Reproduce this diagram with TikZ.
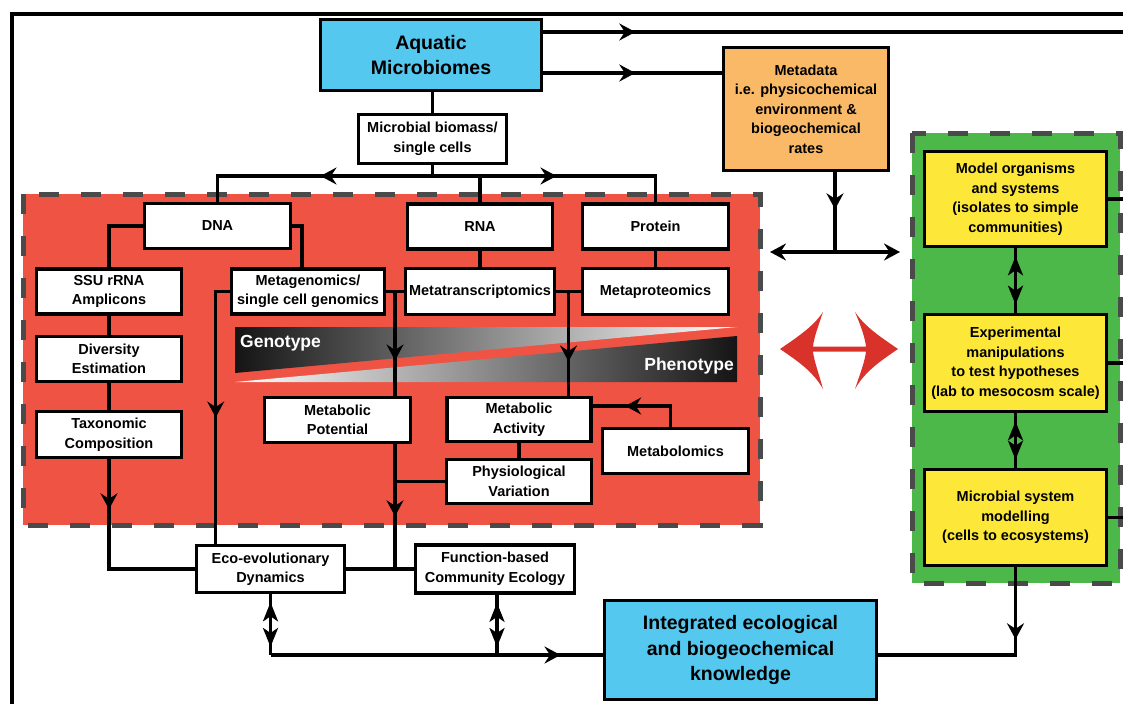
\documentclass[tikz,border=0pt]{standalone}
\usepackage{fontspec}
\setmainfont{Liberation Sans}
\usetikzlibrary{arrows.meta,decorations.markings,calc}
\definecolor{redbg}{HTML}{EF5344}
\definecolor{greenbg}{HTML}{4DB84A}
\definecolor{yellowbx}{HTML}{FDE83A}
\definecolor{cyanbx}{HTML}{55C8EF}
\definecolor{orangebx}{HTML}{F9B966}
\definecolor{dashgray}{HTML}{4A4A4A}
\definecolor{arrowred}{HTML}{D8322B}
\tikzset{
  barb/.tip={Stealth[length=16pt,width=17pt,inset=5.5pt]},
  barbbig/.tip={Stealth[length=19pt,width=15pt,inset=5pt]},
  box/.style={draw=black, line width=3.6pt, fill=white, align=center, inner sep=0pt,
     font=\bfseries\fontsize{14.5}{19.5}\selectfont},
  bigbox/.style={box, font=\bfseries\fontsize{19.5}{25.5}\selectfont},
  conn/.style={draw=black, line width=3.2pt},
  fwd/.style={postaction={decorate,decoration={markings,mark=at position #1 with {\arrow{barb}}}}},
  dbl/.style={postaction={decorate,decoration={markings,
      mark=at position 8pt with {\arrowreversed{barbbig}},
      mark=at position -8pt with {\arrow{barbbig}}}}},
  dashedbg/.style={draw=dashgray, line width=5pt, dash pattern=on 20pt off 22pt},
  bandtxt/.style={text=white, font=\bfseries\fontsize{17.5}{20}\selectfont, inner sep=0pt},
}
\begin{document}
\begin{tikzpicture}[x=1pt,y=-1pt]
\useasboundingbox (0,0) rectangle (1123,704);
% frame
\draw[line width=4pt] (12,704) -- (12,14) -- (1123,14);
% backgrounds
\filldraw[fill=redbg, dashedbg] (23,194) rectangle (760,525);
\filldraw[fill=greenbg, dashedbg] (912,133) rectangle (1120,583);
% genotype / phenotype bands
\shade[left color=black!92, right color=white] (235,327) -- (737,327) -- (235,373) -- cycle;
\shade[left color=white, right color=black!92] (235,382) -- (737,382) -- (737,336) -- cycle;
\node[bandtxt, anchor=west] (geno) at (240,343) {Genotype};
\node[bandtxt, anchor=east] (pheno) at (734,366) {Phenotype};
% nodes
\node[bigbox, fill=cyanbx, minimum width=221pt, minimum height=71pt] (aqu) at (431,55) {Aquatic\\Microbiomes};
\node[box, minimum width=148pt, minimum height=49pt] (bio) at (432.5,139) {Microbial biomass/\\single cells};
\node[box, fill=orangebx, minimum width=165pt, minimum height=123pt] (meta) at (806,109) {Metadata\\i.e. physicochemical\\environment \&\\biogeochemical\\rates};
\node[box, minimum width=146pt, minimum height=45pt] (dna) at (217.5,226) {DNA};
\node[box, minimum width=145pt, minimum height=45pt] (rna) at (480,226.5) {RNA};
\node[box, minimum width=146pt, minimum height=45pt] (prot) at (655.5,226.5) {Protein};
\node[box, minimum width=145pt, minimum height=45pt] (ssu) at (109,291.5) {SSU rRNA\\Amplicons};
\node[box, minimum width=145pt, minimum height=45pt] (div) at (109,359) {Diversity\\Estimation};
\node[box, minimum width=145pt, minimum height=46pt] (tax) at (109,434.5) {Taxonomic\\Composition};
\node[box, minimum width=153pt, minimum height=45pt] (mgen) at (308,291.5) {Metagenomics/\\single cell genomics};
\node[box, minimum width=149pt, minimum height=46pt] (mtr) at (480,291.5) {Metatranscriptomics};
\node[box, minimum width=146pt, minimum height=46pt] (mprot) at (655.5,291.5) {Metaproteomics};
\node[box, minimum width=146pt, minimum height=45pt] (mpot) at (337.5,420) {Metabolic\\Potential};
\node[box, minimum width=144pt, minimum height=44pt] (mact) at (519,419.5) {Metabolic\\Activity};
\node[box, minimum width=145pt, minimum height=44pt] (phys) at (519,481.5) {Physiological\\Variation};
\node[box, minimum width=146pt, minimum height=45pt] (mbol) at (675.5,451) {Metabolomics};
\node[box, minimum width=148pt, minimum height=47pt] (eco) at (270.5,569) {Eco-evolutionary\\Dynamics};
\node[box, minimum width=159pt, minimum height=48pt] (func) at (495,569) {Function-based\\Community Ecology};
\node[bigbox, fill=cyanbx, minimum width=272pt, minimum height=99pt] (integ) at (740.5,650) {Integrated ecological\\and biogeochemical\\knowledge};
\node[box, fill=yellowbx, minimum width=182pt, minimum height=95pt] (y1) at (1015.5,199) {Model organisms\\and systems\\(isolates to simple\\communities)};
\node[box, fill=yellowbx, minimum width=182pt, minimum height=97pt] (y2) at (1015.5,363) {Experimental\\manipulations\\to test hypotheses\\(lab to mesocosm scale)};
\node[box, fill=yellowbx, minimum width=182pt, minimum height=96pt] (y3) at (1015.5,517.5) {Microbial system\\modelling\\(cells to ecosystems)};
% coordinates
\coordinate (br) at (432.5,176);
\coordinate (e1) at (1123,32);
\coordinate (mj) at (835,252);
\coordinate (mL) at (770,252);
\coordinate (mR) at (900,252);
\coordinate (bl) at (0,655);
\coordinate (j1) at ($(mgen.east)!0.5!(mtr.west)$);
\coordinate (j2) at ($(mtr.east)!0.5!(mprot.west)$);
% connectors
\draw[conn] (aqu.south -| bio.north) -- (bio.north);
\draw[conn] (bio.south) -- (br);
\draw[conn, fwd=112pt] (br) -| (dna.north);
\draw[conn, fwd=124pt] (br) -| (prot.north);
\draw[conn] (br -| rna.north) -- (rna.north);
\draw[conn, fwd=92pt] (aqu.east |- e1) -- (e1);
\draw[conn, fwd=92pt] (aqu.east |- 0,73) -- (meta.west |- 0,73);
\draw[conn, fwd=37pt] (meta.south -| mj) -- (mj);
\draw[conn, barb-barb] (mL) -- (mR);
\draw[conn] (y1.east) -- (y1.east -| e1);
\draw[conn] (y2.east) -- (y2.east -| e1);
\draw[conn] (y3.east) -- (y3.east -| e1);
\draw[conn, dbl] (y1.south) -- (y2.north);
\draw[conn, dbl] (y2.south) -- (y3.north);
\draw[conn, fwd=72pt] (y3.south) -- (y3.south |- bl) -- (integ.east |- bl);
\draw[conn, dbl] (eco.south) -- (eco.south |- bl);
\draw[conn, dbl] ([xshift=2pt]func.south) -- ([xshift=2pt]func.south |- bl);
\draw[conn, fwd=290pt] (eco.south |- bl) -- (integ.west |- bl);
\draw[conn, fwd=50pt] (tax.south) |- (eco.west);
\draw[conn, fwd=140pt] (mgen.west) -| ([xshift=21pt]eco.north west);
\draw[conn] (mgen.east) -- (mtr.west);
\draw[conn] (mtr.east) -- (mprot.west);
\draw[conn, fwd=69pt] (j1) -- (j1 |- mpot.north);
\draw[conn, fwd=70pt] (j2) -- (j2 |- mact.north);
\draw[conn, fwd=72pt] (mpot.south -| j1) -- (j1 |- eco.east);
\draw[conn] (phys.west) -- (phys.west -| j1);
\draw[conn] (eco.east) -- (func.west);
\draw[conn] (mact.south) -- (phys.north);
\draw[conn, fwd=66pt] ([xshift=-5pt]mbol.north) |- (mact.east |- 0,406);
\draw[conn] (dna.west) -| (ssu.north);
\draw[conn] (dna.east) -| ([xshift=-6pt]mgen.north);
\draw[conn] (ssu.south) -- (div.north);
\draw[conn] (div.south) -- (tax.north);
\draw[conn] (rna.south) -- (mtr.north);
\draw[conn] (prot.south) -- (mprot.north);
% red double arrow
\fill[arrowred] (780,349) .. controls (796,338) and (813,327) .. (823,312)
  .. controls (819,324) and (814,337) .. (813,346.5) -- (866,346.5)
  .. controls (865,337) and (860,324) .. (855,312)
  .. controls (865,327) and (882,338) .. (898,349)
  .. controls (882,360) and (865,371) .. (855,389)
  .. controls (860,374) and (865,361) .. (866,351.5) -- (813,351.5)
  .. controls (814,361) and (819,374) .. (823,389)
  .. controls (813,371) and (796,360) .. (780,349) -- cycle;
\end{tikzpicture}
\end{document}
